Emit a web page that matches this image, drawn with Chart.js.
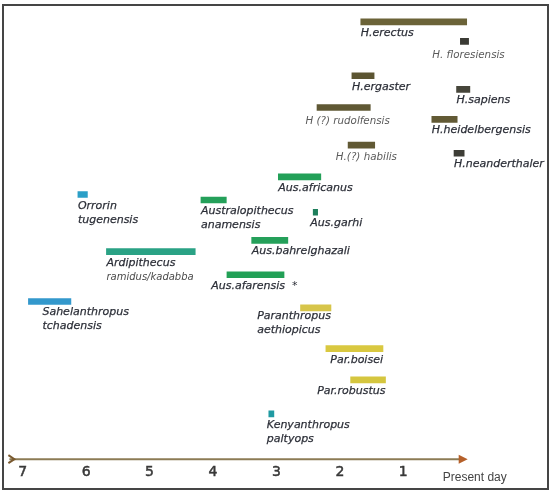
<!DOCTYPE html>
<html>
<head>
<meta charset="utf-8">
<script src="https://cdn.jsdelivr.net/npm/chart.js@4"></script>
<style>
  body { margin: 0; background: #fff; }
  #frame { position: absolute; left: 2px; top: 4px; width: 543px; height: 482px; border: 2px solid #454545; }
  canvas { display: block; }
</style>
</head>
<body>
<div id="frame"><canvas id="chart" width="543" height="482"></canvas></div>
<script>
// species, top row first (names with \n get a second line)
const species = [
  'H.erectus', 'H. floresiensis', 'H.ergaster', 'H.sapiens', 'H (?) rudolfensis',
  'H.heidelbergensis', 'H.(?) habilis', 'H.neanderthaler', 'Aus.africanus',
  'Orrorin\ntugenensis', 'Australopithecus\nanamensis', 'Aus.garhi', 'Aus.bahrelghazali',
  'Ardipithecus\nramidus/kadabba', 'Aus.afarensis', 'Sahelanthropus\ntchadensis',
  'Paranthropus\naethiopicus', 'Par.boisei', 'Par.robustus', 'Kenyanthropus\npaltyops'
];
// millions of years ago
const startMya = [1.67, 0.10, 1.81, 0.16, 2.36, 0.55, 1.87, 0.20, 2.97, 6.13, 4.19, 2.42, 3.39, 5.68, 3.78, 6.91, 2.62, 2.22, 1.83, 3.12];
const endMya   = [0.00, -0.03, 1.46, -0.05, 1.52, 0.15, 1.45, 0.04, 2.30, 5.98, 3.79, 2.35, 2.82, 4.28, 2.88, 6.24, 2.14, 1.32, 1.28, 3.04];
// vertical row position, 0 = time axis, 100 = top
const rowLevel = [96.5, 92.2, 84.6, 81.6, 77.6, 75.0, 69.3, 67.5, 62.3, 58.4, 57.2, 54.5, 48.3, 45.8, 40.7, 34.8, 33.4, 24.4, 17.5, 10.0];
const barColors = [
  '#6b6338', '#3b3b35', '#5c5532', '#46453a', '#5f5834', '#625a35', '#615934', '#3d3d36',
  '#23a058', '#2b9fc7', '#24a05a', '#1e7f5c', '#25a05a', '#2aa285', '#22a056', '#3398cc',
  '#d7c54a', '#d9c840', '#d5c63f', '#1f9aa2'
];
const tickValues = [7, 6, 5, 4, 3, 2, 1];
const tickLabels = ['7', '6', '5', '4', '3', '2', '1'];

// label placement tweaks, keyed by first line of the name
const labelStyle = {
  'H. floresiensis': { align: 'center', dx: 4, dy: 3, size: 10.3, color: '#5a5a5a', weight: 0 },
  'H (?) rudolfensis': { align: 'center', dx: 4, dy: 2, size: 10.3, color: '#5a5a5a', weight: 0 },
  'H.(?) habilis': { align: 'center', dx: 5, dy: 1, size: 10.3, color: '#5a5a5a', weight: 0 },
  'Aus.garhi': { dx: -3 },
  'Kenyanthropus': { dx: -2 },
  'Sahelanthropus': { dx: 14 },
  'Ardipithecus': { size2: 10, color2: '#4a4a4a' },
  'Aus.afarensis': { align: 'right', dx: 1, note: '*' },
  'Paranthropus': { align: 'right', dy: -3 },
  'Par.boisei': { align: 'right' },
  'Par.robustus': { align: 'right' }
};

const speciesLabels = {
  id: 'speciesLabels',
  afterDatasetsDraw(chart) {
    const ctx = chart.ctx;
    const meta = chart.getDatasetMeta(0);
    meta.data.forEach((bar, i) => {
      const lines = species[i].split('\n');
      const st = Object.assign({ align: 'left', dx: 0, dy: 0, size: 11, color: '#2c2f38', weight: 0.25 }, labelStyle[lines[0]] || {});
      const left = Math.min(bar.x, bar.base);
      const right = Math.max(bar.x, bar.base);
      ctx.save();
      ctx.font = 'italic ' + st.size + 'px "DejaVu Sans"';
      const w = ctx.measureText(lines[0]).width;
      let x0 = left;
      if (st.align === 'right') x0 = right - w;
      if (st.align === 'center') x0 = (left + right) / 2 - w / 2;
      x0 += st.dx;
      ctx.textBaseline = 'alphabetic';
      ctx.textAlign = 'left';
      lines.forEach((ln, k) => {
        const size = k > 0 && st.size2 ? st.size2 : st.size;
        const col = k > 0 && st.color2 ? st.color2 : st.color;
        const yy = bar.y + 14 + st.dy + k * 14;
        ctx.font = 'italic ' + size + 'px "DejaVu Sans"';
        ctx.fillStyle = col;
        ctx.fillText(ln, x0, yy);
        if (st.weight && !(k > 0 && st.size2)) {
          ctx.strokeStyle = col;
          ctx.lineWidth = st.weight;
          ctx.strokeText(ln, x0, yy);
        }
      });
      if (st.note) {
        ctx.font = st.size + 'px "DejaVu Sans"';
        ctx.fillStyle = st.color;
        ctx.fillText(st.note, x0 + w + 7, bar.y + 14 + st.dy);
      }
      ctx.restore();
    });
  }
};

const timeArrow = {
  id: 'timeArrow',
  beforeDatasetsDraw(chart) {
    const ctx = chart.ctx;
    const xs = chart.scales.x;
    const y = chart.chartArea.bottom;
    const x1 = xs.getPixelForValue(7.21);
    const x2 = xs.getPixelForValue(0);
    ctx.save();
    ctx.strokeStyle = '#8c7b55';
    ctx.lineWidth = 2;
    ctx.beginPath();
    ctx.moveTo(x1, y);
    ctx.lineTo(x2 - 7, y);
    ctx.stroke();
    // small tail mark
    ctx.strokeStyle = '#7a5a30';
    ctx.beginPath();
    ctx.moveTo(x1 - 1, y - 4);
    ctx.lineTo(x1 + 5, y);
    ctx.lineTo(x1 - 1, y + 4);
    ctx.stroke();
    // arrow head
    ctx.fillStyle = '#b5602a';
    ctx.beginPath();
    ctx.moveTo(x2 + 1, y);
    ctx.lineTo(x2 - 8, y - 4.5);
    ctx.lineTo(x2 - 8, y + 4.5);
    ctx.closePath();
    ctx.fill();
    ctx.font = '12px "Liberation Sans"';
    ctx.fillStyle = '#444';
    ctx.textBaseline = 'middle';
    ctx.fillText('Present day', x2 - 24, y + 18);
    ctx.restore();
  }
};

const ctx = document.getElementById('chart').getContext('2d');
new Chart(ctx, {
  type: 'bar',
  data: {
    datasets: [{
      data: species.map((s, i) => ({ x: [startMya[i], endMya[i]], y: rowLevel[i] })),
      backgroundColor: barColors,
      borderWidth: 0,
      barThickness: 6
    }]
  },
  options: {
    indexAxis: 'y',
    responsive: false,
    animation: false,
    layout: { padding: { left: 0, right: 0, top: 0, bottom: 2 } },
    plugins: { legend: { display: false }, tooltip: { enabled: false } },
    scales: {
      x: {
        type: 'linear',
        reverse: true,
        min: -1.266,
        max: 7.295,
        grid: { display: false, drawTicks: false },
        border: { display: false },
        afterBuildTicks: (s) => { s.ticks = tickValues.map(v => ({ value: v })); },
        ticks: {
          padding: 5,
          color: '#383838',
          textStrokeColor: '#383838',
          textStrokeWidth: 0.5,
          font: { family: 'DejaVu Sans', size: 14 },
          callback: (v) => tickLabels[tickValues.indexOf(v)]
        }
      },
      y: {
        type: 'linear',
        display: false,
        offset: false,
        min: 0,
        max: 100
      }
    }
  },
  plugins: [timeArrow, speciesLabels]
});
</script>
</body>
</html>
